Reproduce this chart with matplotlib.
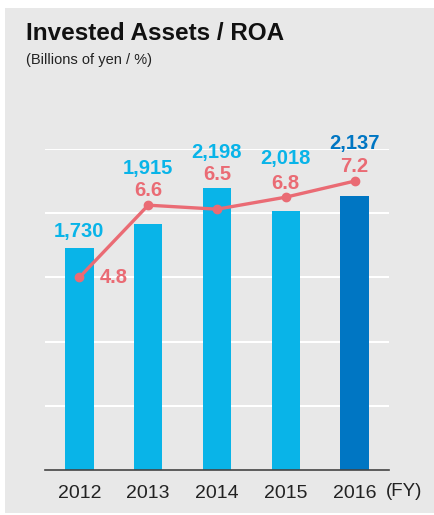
import matplotlib
matplotlib.use("Agg")
import matplotlib.pyplot as plt
from matplotlib.patches import Rectangle

years = ["2012", "2013", "2014", "2015", "2016"]
invested_assets = [1730, 1915, 2198, 2018, 2137]
roa = [4.8, 6.6, 6.5, 6.8, 7.2]
asset_labels = ["1,730", "1,915", "2,198", "2,018", "2,137"]
roa_labels = ["4.8", "6.6", "6.5", "6.8", "7.2"]

# label placement (pixels offset from mark)
bar_lbl_dy = [16, 56, 35, 52, 52]
roa_lbl_dx = [34, 0, 0, 0, 0]
roa_lbl_dy = [0, 15, 35, 14, 15]

CYAN = "#09B4E8"
DARK = "#0076C3"
RED = "#EA6B74"
BG = "#E8E8E8"
FONT = ["Liberation Sans", "DejaVu Sans"]

plt.rcParams["font.family"] = FONT

fig = plt.figure(figsize=(4.35, 5.15), dpi=100)
fig.patch.set_facecolor("white")
fig.patches.append(Rectangle((5 / 435, 1 - 513 / 515), 430 / 435, 505 / 515,
                             transform=fig.transFigure, facecolor=BG,
                             edgecolor="none", zorder=-10))

fig.text(26 / 435, 1 - 34 / 515, "Invested Assets / ROA", fontsize=17.5,
         fontweight="bold", color="#111111", va="center", ha="left")
fig.text(26 / 435, 1 - 60 / 515, "(Billions of yen / %)", fontsize=10.5,
         color="#222222", va="center", ha="left")

ax = fig.add_axes([45 / 435, 45 / 515, 344 / 435, 321 / 515])
ax.set_facecolor("none")
x = list(range(len(years)))
colors = [CYAN] * (len(years) - 1) + [DARK]
ax.bar(x, invested_assets, width=0.41, color=colors, zorder=2)
ax.set_xlim(-0.5, 4.5)
ax.set_ylim(0, 2500)
ax.set_yticks([500, 1000, 1500, 2000, 2500])
ax.yaxis.grid(True, color="white", linewidth=1.5, zorder=1)
ax.set_axisbelow(True)
for s in ["top", "right", "left"]:
    ax.spines[s].set_visible(False)
ax.spines["bottom"].set_color("#444444")
ax.spines["bottom"].set_linewidth(1.2)
ax.tick_params(axis="y", length=0, labelleft=False)
ax.tick_params(axis="x", length=0, pad=11, labelsize=14, labelcolor="#222222")
ax.set_xticks(x)
ax.set_xticklabels(years)
fig.text(404 / 435, 1 - 492 / 515, "(FY)", fontsize=13.5, color="#222222",
         va="center", ha="center")

for i, v in enumerate(invested_assets):
    ax.annotate(asset_labels[i], (i, v), xytext=(0, bar_lbl_dy[i]),
                textcoords="offset pixels", ha="center", va="center",
                fontsize=14.5, fontweight="bold", color=colors[i], zorder=5,
                annotation_clip=False)

ax2 = ax.twinx()
ax2.set_ylim(0, 8.0)
ax2.axis("off")
ax2.plot(x, roa, color=RED, linewidth=2.4, marker="o", markersize=6, zorder=4)
for i, v in enumerate(roa):
    ax2.annotate(roa_labels[i], (i, v), xytext=(roa_lbl_dx[i], roa_lbl_dy[i]),
                 textcoords="offset pixels", ha="center", va="center",
                 fontsize=14.5, fontweight="bold", color=RED, zorder=5,
                 annotation_clip=False)

fig.savefig("out.png", dpi=100)
